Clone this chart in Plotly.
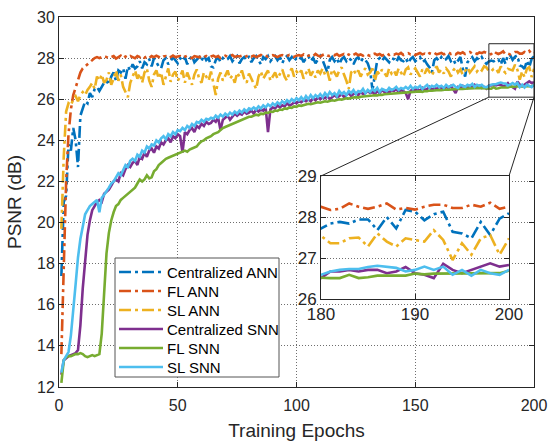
import plotly.graph_objects as go

# ---------------- data ----------------
epochs = list(range(1, 201))

central_ann = [
    17.4, 21.0, 21.3, 23.8, 23.5, 24.6, 24.0, 22.7, 25.2, 25.5,
    25.9, 25.8, 26.3, 26.1, 26.5, 26.6, 26.4, 26.6, 26.8, 26.9,
    26.7, 27.1, 27.3, 26.9, 27.4, 27.3, 27.5, 27.0, 27.6, 27.4,
    27.7, 27.5, 27.6, 27.85, 27.5, 27.8, 27.7, 27.95, 27.6, 28.0,
    27.8, 27.6, 27.5, 27.9, 28.0, 27.7, 27.85, 28.05, 27.9, 27.75,
    28.0, 27.85, 28.05, 27.7, 27.95, 28.1, 27.8, 27.95, 28.05, 27.85,
    28.15, 27.9, 28.0, 27.6, 27.55, 27.9, 28.05, 27.8, 28.0, 27.9,
    27.95, 28.1, 27.85, 28.0, 28.1, 27.75, 27.95, 28.05, 27.9, 28.1,
    27.8, 28.0, 28.1, 27.9, 27.7, 28.05, 27.95, 28.1, 27.85, 28.0,
    28.1, 27.9, 28.05, 27.75, 28.0, 28.1, 27.9, 28.05, 27.85, 28.0,
    27.9, 28.05, 27.8, 28.0, 28.1, 27.85, 28.0, 27.75, 27.95, 28.1,
    27.9, 27.6, 27.3, 27.9, 28.05, 27.85, 28.0, 27.7, 27.95, 28.05,
    27.85, 28.0, 27.9, 27.7, 27.95, 28.05, 27.8, 28.0, 27.9, 27.75,
    27.4, 26.45, 27.2, 27.9, 28.0, 27.85, 28.05, 27.9, 27.8, 28.0,
    27.95, 27.8, 28.05, 27.9, 27.85, 28.0, 27.75, 27.95, 28.05, 27.85,
    27.95, 28.05, 27.8, 27.9, 27.7, 27.55, 27.3, 27.9, 28.0, 27.85,
    28.05, 27.9, 27.95, 28.1, 27.85, 27.95, 27.7, 27.9, 28.05, 27.5,
    27.1, 27.8, 27.95, 28.05, 27.85, 28.0, 27.9, 28.05, 27.85, 27.72,
    27.84, 27.88, 27.84, 27.94, 27.94, 27.68, 28.0, 27.72, 28.17, 28.13,
    27.92, 28.07, 28.13, 27.64, 27.6, 27.48, 27.88, 27.56, 27.96, 28.09,
]

fl_ann = [
    13.6, 18.5, 22.0, 24.3, 25.5, 26.2, 26.6, 27.0, 27.3, 27.5,
    27.6, 27.7, 27.8, 27.9, 28.0, 28.05, 28.0, 28.05, 28.1, 28.05,
    28.0, 28.05, 28.1, 27.98, 28.05, 28.12, 28.0, 28.08, 28.02, 28.1,
    28.05, 28.0, 28.1, 28.05, 28.12, 28.02, 28.08, 28.0, 28.1, 28.05,
    28.12, 28.05, 28.0, 28.08, 28.1, 28.02, 28.05, 28.12, 28.05, 28.08,
    28.1, 28.02, 28.06, 28.12, 28.05, 28.0, 28.1, 28.08, 28.04, 28.12,
    28.05, 28.1, 28.03, 28.08, 28.12, 28.05, 28.1, 28.0, 28.08, 28.12,
    28.06, 28.1, 28.15, 28.05, 28.1, 28.08, 28.12, 28.04, 28.1, 28.15,
    28.08, 28.12, 28.05, 28.1, 28.15, 28.08, 28.12, 28.06, 28.1, 28.14,
    28.1, 28.05, 28.12, 28.15, 28.08, 28.1, 28.16, 28.1, 28.06, 28.12,
    28.15, 28.1, 28.18, 28.08, 28.12, 28.15, 28.1, 28.2, 28.12, 28.08,
    28.15, 28.2, 28.12, 28.1, 28.18, 28.14, 28.2, 28.1, 28.15, 28.2,
    28.12, 28.18, 28.1, 28.15, 28.22, 28.14, 28.18, 28.12, 28.2, 28.15,
    28.1, 28.18, 28.22, 28.15, 28.2, 28.12, 28.18, 28.24, 28.15, 28.2,
    28.16, 28.22, 28.18, 28.25, 28.15, 28.2, 28.24, 28.18, 28.22, 28.15,
    28.2, 28.25, 28.18, 28.22, 28.15, 28.24, 28.2, 28.26, 28.18, 28.22,
    28.25, 28.18, 28.22, 28.28, 28.2, 28.24, 28.18, 28.26, 28.22, 28.28,
    28.2, 28.25, 28.3, 28.22, 28.26, 28.2, 28.28, 28.24, 28.3, 28.25,
    28.17, 28.2, 28.33, 28.25, 28.2, 28.25, 28.33, 28.18, 28.22, 28.18,
    28.25, 28.3, 28.3, 28.22, 28.22, 28.3, 28.25, 28.35, 28.2, 28.25,
]

sl_ann = [
    19.7, 23.2, 25.4, 25.8, 25.7, 26.0, 26.15, 25.9, 26.2, 26.35,
    26.2, 26.45, 26.6, 26.8, 26.5, 27.1, 26.9, 27.2, 26.8, 26.95,
    27.3, 26.7, 27.0, 27.4, 26.9, 27.2, 26.6, 26.3, 26.1, 26.8,
    27.1, 27.4, 27.0, 27.25, 26.8, 27.3, 27.5, 26.9, 26.6, 27.2,
    27.4, 27.0, 27.3, 26.7, 27.1, 27.5, 26.85, 27.2, 27.35, 26.9,
    27.1, 27.4, 26.8, 27.3, 27.0, 26.7, 27.2, 27.45, 27.0, 26.8,
    27.3, 27.1, 26.9, 27.35, 26.7, 26.2, 27.0, 27.3, 26.9, 27.2,
    27.4, 27.0, 27.15, 26.8, 27.3, 27.1, 27.4, 27.0, 26.8, 27.25,
    27.0, 26.7, 26.5, 27.1, 27.35, 27.0, 27.2, 27.4, 26.9, 27.1,
    27.3, 27.0, 27.25, 27.45, 27.1, 26.9, 27.3, 27.5, 27.1, 27.35,
    27.2, 27.4, 27.0, 27.3, 27.5, 27.15, 27.35, 27.05, 27.4, 27.25,
    27.5, 27.2, 27.35, 26.9, 27.45, 27.3, 27.1, 27.4, 27.55, 27.2,
    26.9, 26.5, 27.3, 27.45, 27.2, 27.4, 27.1, 27.35, 27.5, 27.2,
    27.3, 27.5, 26.9, 27.35, 27.2, 27.45, 27.3, 27.1, 27.5, 27.25,
    27.4, 27.15, 27.5, 27.3, 27.1, 27.45, 27.55, 27.2, 27.35, 27.5,
    27.3, 27.1, 27.45, 27.25, 27.5, 27.35, 27.15, 27.4, 27.6, 27.3,
    27.45, 27.25, 27.5, 27.35, 27.1, 27.4, 27.55, 27.3, 27.45, 27.2,
    27.4, 27.55, 27.3, 27.45, 27.6, 27.35, 27.5, 27.4, 27.6, 27.54,
    27.36, 27.36, 27.48, 27.5, 27.28, 27.6, 27.4, 27.28, 27.48, 27.44,
    27.4, 27.68, 27.44, 26.95, 27.36, 27.08, 27.48, 27.56, 27.08, 27.48,
]

central_snn = [
    12.6, 13.3, 13.4, 13.5, 13.55, 13.6, 13.65, 13.8, 15.0, 16.8,
    18.3, 19.4, 20.1, 20.6, 20.8, 21.0, 21.1, 21.0, 21.4, 21.5,
    21.6, 21.8, 22.0, 22.1, 22.0, 22.4, 22.3, 22.6, 22.8, 22.7,
    22.9, 23.0, 22.8, 23.2, 23.1, 23.4, 23.2, 23.5, 23.6, 23.4,
    23.7, 23.6, 23.9, 23.8, 24.0, 24.1, 23.9, 24.2, 24.1, 24.3,
    24.2, 23.4, 24.4, 24.3, 24.5, 24.6, 24.4, 24.7, 24.6, 24.8,
    24.7, 24.9, 24.8, 24.85, 25.0, 24.9, 25.1, 24.5, 25.0, 25.1,
    25.2, 25.0, 25.15, 25.3, 25.2, 25.3, 25.25, 25.4, 25.3, 25.35,
    25.45, 25.3, 25.5, 25.4, 25.5, 25.45, 25.6, 24.4, 25.5, 25.6,
    25.55, 25.7, 25.6, 25.7, 25.65, 25.8, 25.7, 25.75, 25.85, 25.8,
    25.9, 25.85, 25.95, 25.9, 26.0, 25.9, 26.05, 25.95, 26.1, 26.0,
    26.1, 26.05, 26.15, 26.0, 26.1, 26.2, 26.1, 26.15, 26.25, 26.1,
    26.2, 26.3, 26.15, 26.25, 26.3, 26.2, 26.35, 26.25, 26.3, 26.4,
    26.3, 26.35, 26.25, 26.4, 26.3, 26.45, 26.35, 26.4, 26.3, 26.45,
    26.4, 26.5, 26.35, 26.45, 26.4, 26.3, 26.0, 26.4, 26.5, 26.45,
    26.5, 26.4, 26.55, 26.45, 26.5, 26.6, 26.45, 26.55, 26.5, 26.6,
    26.55, 26.5, 26.6, 26.55, 26.65, 26.5, 26.3, 26.6, 26.55, 26.65,
    26.6, 26.55, 26.65, 26.6, 26.7, 26.6, 26.65, 26.55, 26.6, 26.51,
    26.67, 26.67, 26.71, 26.67, 26.71, 26.71, 26.63, 26.67, 26.78, 26.63,
    26.59, 26.51, 26.86, 26.71, 26.63, 26.71, 26.79, 26.87, 26.79, 26.83,
]

fl_snn = [
    12.2, 13.3, 13.45, 13.5, 13.5, 13.55, 13.6, 13.6, 13.65, 13.6,
    13.5, 13.45, 13.5, 13.55, 13.5, 13.55, 13.6, 14.6, 16.8, 18.5,
    19.5, 20.1, 20.5, 20.8, 20.9, 21.1, 21.2, 21.3, 21.4, 21.5,
    21.6, 21.7, 21.9, 22.1, 22.0, 22.1, 22.3, 22.15, 22.2, 22.5,
    22.6, 22.8, 22.9, 23.0, 23.1, 23.15, 23.2, 23.25, 23.3, 23.35,
    23.4, 23.45, 23.5, 23.45, 23.55, 23.6, 23.65, 23.7, 23.85, 23.95,
    24.0, 24.1, 24.15, 24.2, 24.3, 24.35, 24.4, 24.5, 24.6, 24.65,
    24.7, 24.75, 24.8, 24.85, 24.9, 24.95, 25.0, 25.05, 25.1, 25.15,
    25.15, 25.2, 25.25, 25.22, 25.3, 25.28, 25.35, 25.33, 25.4, 25.38,
    25.45, 25.43, 25.5, 25.48, 25.55, 25.53, 25.6, 25.58, 25.65, 25.63,
    25.7, 25.68, 25.72, 25.75, 25.78, 25.76, 25.8, 25.82, 25.85, 25.83,
    25.88, 25.9, 25.88, 25.92, 25.95, 25.93, 25.98, 26.0, 25.98, 26.02,
    26.05, 26.03, 26.07, 26.08, 26.1, 26.08, 26.12, 26.13, 26.15, 26.13,
    26.17, 26.18, 26.2, 26.18, 26.22, 26.21, 26.24, 26.25, 26.23, 26.27,
    26.28, 26.27, 26.3, 26.29, 26.32, 26.31, 26.33, 26.35, 26.34, 26.36,
    26.37, 26.38, 26.36, 26.4, 26.39, 26.42, 26.41, 26.43, 26.44, 26.45,
    26.44, 26.46, 26.47, 26.46, 26.48, 26.47, 26.49, 26.5, 26.49, 26.5,
    26.51, 26.52, 26.51, 26.53, 26.52, 26.54, 26.55, 26.54, 26.53, 26.51,
    26.51, 26.51, 26.59, 26.51, 26.53, 26.57, 26.57, 26.57, 26.57, 26.62,
    26.6, 26.62, 26.62, 26.63, 26.63, 26.63, 26.63, 26.63, 26.63, 26.69,
]

sl_snn = [
    12.7, 13.3, 13.5, 13.7, 14.5, 15.6, 17.0, 18.3, 19.2, 19.8,
    20.4, 20.6, 20.8, 20.9, 21.0, 21.1, 20.5, 21.2, 21.35, 21.5,
    21.7, 21.9, 22.0, 22.2, 22.4, 22.3, 22.6, 22.8, 22.7, 23.0,
    23.1, 23.0, 23.3, 23.2, 23.5, 23.4, 23.7, 23.6, 23.8, 23.75,
    24.0, 23.9, 24.1, 24.2, 24.05, 24.3, 24.2, 24.4, 24.3, 24.5,
    24.45, 24.6, 24.5, 24.7, 24.6, 24.8, 24.7, 24.9, 24.85, 25.0,
    24.9, 25.05, 25.0, 25.1, 25.05, 25.2, 25.1, 25.25, 25.15, 25.3,
    25.2, 25.35, 25.25, 25.4, 25.3, 25.45, 25.35, 25.5, 25.4, 25.55,
    25.5, 25.6, 25.5, 25.65, 25.55, 25.7, 25.6, 25.75, 25.65, 25.8,
    25.7, 25.85, 25.75, 25.9, 25.8, 25.95, 25.85, 26.0, 25.9, 26.05,
    25.95, 26.1, 25.95, 26.15, 26.0, 26.2, 26.05, 26.2, 26.1, 26.25,
    26.1, 26.3, 26.15, 26.35, 26.2, 26.3, 26.15, 26.4, 26.25, 26.35,
    26.2, 26.4, 26.3, 26.45, 26.25, 26.4, 26.35, 26.5, 26.3, 26.45,
    26.35, 26.5, 26.4, 26.55, 26.35, 26.5, 26.45, 26.4, 26.55, 26.45,
    26.5, 26.6, 26.45, 26.55, 26.5, 26.6, 26.5, 26.65, 26.5, 26.6,
    26.55, 26.65, 26.5, 26.6, 26.7, 26.55, 26.65, 26.6, 26.7, 26.6,
    26.65, 26.55, 26.7, 26.6, 26.65, 26.7, 26.6, 26.55, 26.7, 26.65,
    26.6, 26.7, 26.65, 26.75, 26.6, 26.7, 26.65, 26.7, 26.6, 26.59,
    26.67, 26.71, 26.73, 26.73, 26.78, 26.81, 26.78, 26.76, 26.67, 26.71,
    26.79, 26.71, 26.79, 26.59, 26.71, 26.57, 26.71, 26.63, 26.59, 26.71,
]

names = ["Centralized ANN", "FL ANN", "SL ANN", "Centralized SNN", "FL SNN", "SL SNN"]
values = [central_ann, fl_ann, sl_ann, central_snn, fl_snn, sl_snn]
colors = ["#0072BD", "#D95319", "#EDB120", "#7E2F8E", "#77AC30", "#4DBEEE"]
DASHDOT = "12px,4px,3px,4px"
dashes = [DASHDOT, DASHDOT, DASHDOT, "solid", "solid", "solid"]

x_ticks = [0, 50, 100, 150, 200]
y_ticks = [12, 14, 16, 18, 20, 22, 24, 26, 28, 30]
inset_x_ticks = [180, 190, 200]
inset_y_ticks = [26, 27, 28, 29]
zoom_box_x = [181, 200]
zoom_box_y = [26.1, 28.7]

# ---------------- layout constants ----------------
W, H = 551, 441
ML, MR, MT, MB = 59, 17, 17, 54
PW, PH = W - ML - MR, H - MT - MB
XR, YR = [0, 200], [12, 30]
# inset in pixels (left, right, top, bottom)
IL, IR, IT, IB = 321, 509, 176, 299
inset_dx = [(IL - ML) / PW, (IR - ML) / PW]
inset_dy = [(H - MB - IB) / PH, (H - MB - IT) / PH]
# legend box in pixels
LG_L, LG_R, LG_T, LG_B = 115, 279, 258, 377
LG_ROW0, LG_ROW_STEP = 272, 19
LG_LINE_X0, LG_LINE_X1, LG_TEXT_X = 119, 163, 166


def px2paper_x(px):
    return (px - ML) / PW


def px2paper_y(py):
    return (H - MB - py) / PH


TXT = "#262626"
FONT = "Liberation Sans, Arial, sans-serif"
GRID = "#6e6e6e"

fig = go.Figure()
for n, v, c, d in zip(names, values, colors, dashes):
    fig.add_trace(go.Scatter(x=epochs, y=v, name=n, mode="lines", showlegend=False,
                             line=dict(color=c, width=2.6, dash=d),
                             xaxis="x", yaxis="y"))
for n, v, c, d in zip(names, values, colors, dashes):
    fig.add_trace(go.Scatter(x=epochs, y=v, name=n, mode="lines", showlegend=False,
                             line=dict(color=c, width=2.6, dash=d),
                             xaxis="x2", yaxis="y2"))

axis_common = dict(showline=True, linecolor=TXT, linewidth=1, mirror="ticks",
                   ticks="inside", ticklen=5, tickcolor=TXT, showgrid=True,
                   gridcolor=GRID, griddash="1px,2px", gridwidth=1, zeroline=False,
                   automargin=False,
                   tickfont=dict(size=16, color=TXT, family=FONT))

fig.update_layout(
    width=W, height=H,
    margin=dict(l=ML, r=MR, t=MT, b=MB, autoexpand=False),
    paper_bgcolor="white", plot_bgcolor="white",
    font=dict(family=FONT, color=TXT),
    showlegend=False,
    xaxis=dict(domain=[0, 1], range=XR, tickvals=x_ticks, anchor="y", ticklabelstandoff=4,
               title=dict(text="Training Epochs", font=dict(size=19, color=TXT), standoff=10),
               **axis_common),
    yaxis=dict(domain=[0, 1], range=YR, tickvals=y_ticks, anchor="x",
               title=dict(text="PSNR (dB)", font=dict(size=19, color=TXT), standoff=10),
               **axis_common),
    xaxis2=dict(domain=inset_dx, range=[180, 200], tickvals=inset_x_ticks, anchor="y2",
                **axis_common),
    yaxis2=dict(domain=inset_dy, range=[26, 29], tickvals=inset_y_ticks, anchor="x2",
                **axis_common),
)
fig.update_xaxes(tickfont=dict(size=17), selector=dict(anchor="y2"))
fig.update_yaxes(tickfont=dict(size=17), selector=dict(anchor="x2"))

# zoom box and connector lines (main data coordinates)
inset_left_x = XR[0] + (XR[1] - XR[0]) * inset_dx[0]
inset_right_x = XR[0] + (XR[1] - XR[0]) * inset_dx[1]
inset_top_y = YR[0] + (YR[1] - YR[0]) * inset_dy[1]
fig.add_shape(type="rect", xref="x", yref="y", x0=zoom_box_x[0], x1=zoom_box_x[1],
              y0=zoom_box_y[0], y1=zoom_box_y[1], line=dict(color=TXT, width=1))
fig.add_shape(type="line", xref="x", yref="y", x0=zoom_box_x[0], y0=zoom_box_y[0],
              x1=inset_left_x, y1=inset_top_y, line=dict(color=TXT, width=1))
fig.add_shape(type="line", xref="x", yref="y", x0=zoom_box_x[1], y0=zoom_box_y[0],
              x1=inset_right_x, y1=inset_top_y, line=dict(color=TXT, width=1))

# legend (box, line samples, labels) built from the series lists
fig.add_shape(type="rect", xref="paper", yref="paper",
              x0=px2paper_x(LG_L), x1=px2paper_x(LG_R),
              y0=px2paper_y(LG_B), y1=px2paper_y(LG_T),
              fillcolor="white", line=dict(color="#555555", width=1), layer="above")
for i, (n, c, d) in enumerate(zip(names, colors, dashes)):
    yy = px2paper_y(LG_ROW0 + i * LG_ROW_STEP)
    fig.add_shape(type="line", xref="paper", yref="paper",
                  x0=px2paper_x(LG_LINE_X0), x1=px2paper_x(LG_LINE_X1), y0=yy, y1=yy,
                  line=dict(color=c, width=2.6, dash=d), layer="above")
    fig.add_annotation(x=px2paper_x(LG_TEXT_X), y=yy, xref="paper", yref="paper",
                       text=n, showarrow=False, xanchor="left", yanchor="middle",
                       font=dict(size=15, color="#000000", family=FONT),
                       borderpad=0)

fig.write_html("out.html", config={"displayModeBar": False},
               post_script="document.body.style.margin='0';document.body.style.overflow='hidden';")
